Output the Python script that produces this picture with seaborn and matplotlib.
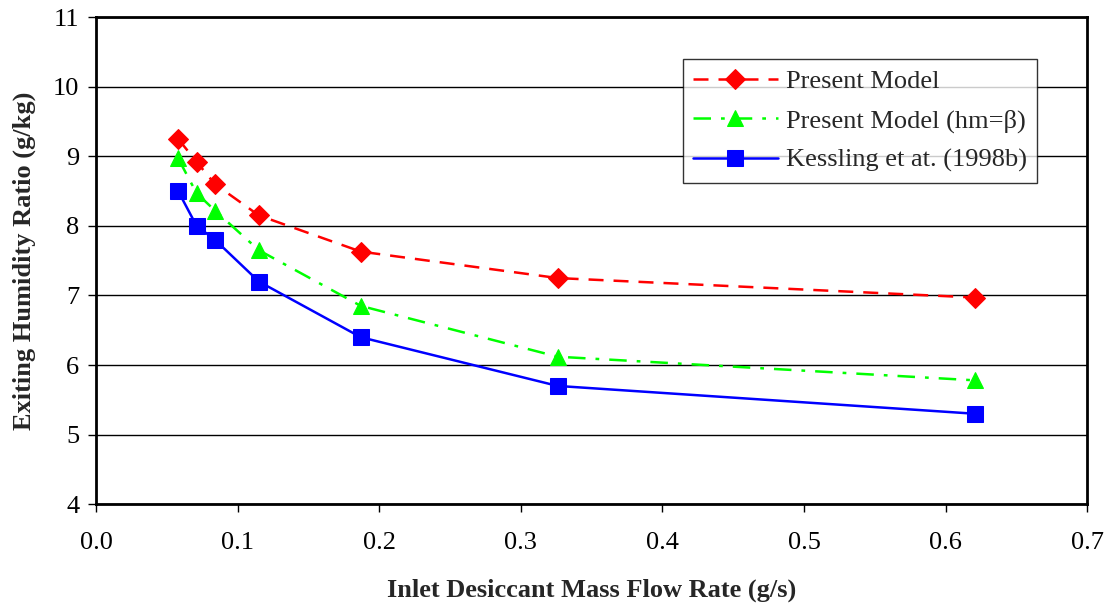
import pandas as pd
import seaborn as sns
import matplotlib.pyplot as plt

flow = [0.058, 0.071, 0.084, 0.115, 0.187, 0.326, 0.621]
present = [9.25, 8.92, 8.60, 8.15, 7.63, 7.25, 6.97]
present_hm = [8.97, 8.47, 8.22, 7.65, 6.85, 6.12, 5.78]
kessling = [8.50, 8.00, 7.80, 7.20, 6.40, 5.70, 5.30]

sns.set_style("white")
plt.rcParams['font.family'] = ['Liberation Serif', 'DejaVu Serif']

fig = plt.figure(figsize=(11.15, 6.09), dpi=100)
ax = fig.add_axes([0.0861, 0.172, 0.889, 0.800])

series = [
    ("Present Model", present, "#ff0000", "D", (0, (6, 4))),
    ("Present Model (hm=\u03b2)", present_hm, "#00ff00", "^", (0, (7, 4, 1.5, 4))),
    ("Kessling et at. (1998b)", kessling, "#0000ff", "s", "-"),
]
for name, vals, col, mk, ls in series:
    df = pd.DataFrame({"x": flow, "y": vals})
    sns.lineplot(data=df, x="x", y="y", ax=ax, color=col, marker=mk,
                 markersize=11 if mk != "D" else 10, markeredgecolor=col,
                 linestyle=ls, linewidth=1.8, label=name, clip_on=False)

ax.set_xlim(0, 0.7)
ax.set_ylim(4, 11)
ax.set_xticks([i / 10 for i in range(8)])
ax.set_xticklabels([f"{i / 10:.1f}" for i in range(8)])
ax.set_yticks(range(4, 12))
ax.yaxis.grid(True, color="black", linewidth=1.0)
ax.set_axisbelow(True)
for s in ax.spines.values():
    s.set_color("black")
    s.set_linewidth(2)
ax.tick_params(axis="both", labelsize=19, direction="out", length=6, width=1,
               colors="black", left=True, bottom=True, pad=6)
ax.tick_params(axis="x", pad=14)
ax.set_xlabel("Inlet Desiccant Mass Flow Rate (g/s)", fontsize=19,
              fontweight="bold", labelpad=18)
ax.set_ylabel("Exiting Humidity Ratio (g/kg)", fontsize=19,
              fontweight="bold", labelpad=12)

leg = ax.legend(loc="upper right", bbox_to_anchor=(0.9495, 0.914), fontsize=19,
                frameon=True, fancybox=False, handlelength=3.2,
                borderpad=0.4, labelspacing=0.6, handletextpad=0.3,
                borderaxespad=0)
leg.get_frame().set_edgecolor("black")
leg.get_frame().set_linewidth(1.0)

fig.savefig("out.png", dpi=100)
